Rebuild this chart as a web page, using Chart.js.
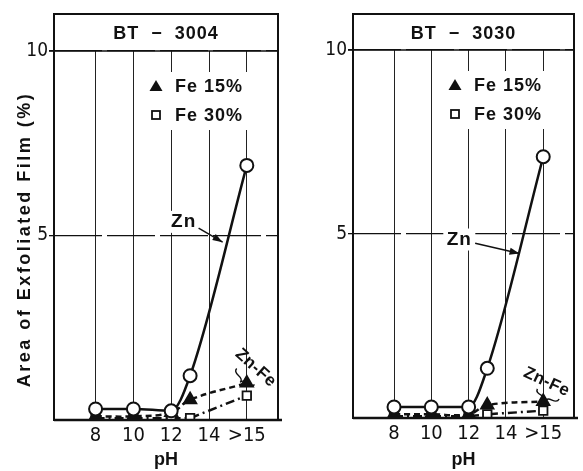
<!DOCTYPE html>
<html>
<head>
<title>Area of Exfoliated Film vs pH</title>
<script src="https://cdn.jsdelivr.net/npm/chart.js@4.4.0/dist/chart.umd.min.js"></script>
<style>
    body { margin: 0; background: #fff; }
    #wrap { position: relative; width: 583px; height: 471px; }
    canvas { position: absolute; top: 0; }
</style>
</head>
<body>
<div id="wrap">
    <canvas id="left" width="290" height="471" style="left:0px"></canvas>
    <canvas id="right" width="284" height="471" style="left:299px"></canvas>
</div>
<script>
// pH positions of the measured points (">15" is plotted at 16)
var phValues = [8, 10, 12, 13, 16];
var tickValues = [8, 10, 12, 14, 16];
var tickLabels = ['8', '10', '12', '14', '>15'];

// BT-3004
var zn3004 = [0.3, 0.3, 0.25, 1.2, 6.9];
var fe15_3004 = [0.1, 0.1, 0.2, 0.55, 1.0];
var fe30_3004 = [0.05, 0.05, 0.05, 0.05, 0.66];

// BT-3030
var zn3030 = [0.3, 0.3, 0.3, 1.35, 7.1];
var fe15_3030 = [0.1, 0.1, 0.1, 0.35, 0.45];
var fe30_3030 = [0.05, 0.05, 0.05, 0.1, 0.2];

var INK = '#111';
var BOLD = '"Liberation Sans", Arial, sans-serif';
var NARROW = '"Liberation Sans Narrow", "DejaVu Sans Condensed", "Liberation Sans", sans-serif';

// annotation anchors, in data units (pH, %)
var deco = {
    left: {
        title: 'BT  \u2212  3004', yTitle: 'Area of Exfoliated Film (%)',
        zn: [12.66, 5.37], arrow: [13.45, 5.2, 14.72, 4.82],
        znFe: [16.47, 1.41, 42], brace: [15.83, 1.12, 42]
    },
    right: {
        title: 'BT  \u2212  3030', yTitle: null,
        zn: [11.5, 4.85], arrow: [12.35, 4.75, 14.73, 4.47],
        znFe: [16.18, 0.98, 25], brace: [16.2, 0.58, 25]
    }
};

function pts(ys) {
    return phValues.map(function (x, i) { return { x: x, y: ys[i] }; });
}

function text(ctx, s, x, y, size, spacing, align, angle) {
    ctx.save();
    ctx.translate(x, y);
    if (angle) ctx.rotate(angle * Math.PI / 180);
    ctx.font = 'bold ' + size + 'px ' + BOLD;
    ctx.letterSpacing = spacing + 'px';
    ctx.textAlign = align || 'center';
    ctx.textBaseline = 'middle';
    ctx.fillStyle = INK;
    ctx.fillText(s, 0, 0);
    ctx.restore();
}

var panelDeco = {
    id: 'panelDeco',
    beforeDatasetsDraw: function (chart) {
        var ctx = chart.ctx, a = chart.chartArea;
        var xs = chart.scales.x, ys = chart.scales.y, d = deco[chart.canvas.id];
        ctx.save();
        ctx.fillStyle = '#fff';
        // gaps in the grid behind legend and Zn label
        ctx.fillRect(a.left + 94, a.top + 21, 104, 58);
        ctx.fillRect(xs.getPixelForValue(d.zn[0]) - 16, ys.getPixelForValue(d.zn[1]) - 11, 32, 22);
        ctx.restore();
    },
    afterDraw: function (chart) {
        var ctx = chart.ctx, a = chart.chartArea;
        var xs = chart.scales.x, ys = chart.scales.y, d = deco[chart.canvas.id];
        var bandTop = 14;
        ctx.save();
        ctx.strokeStyle = INK;
        ctx.lineWidth = 2;
        ctx.strokeRect(a.left, bandTop, a.right - a.left, a.bottom - bandTop);
        ctx.lineWidth = 1.5;
        ctx.beginPath();
        ctx.moveTo(a.left - 5, a.top);
        ctx.lineTo(a.right, a.top);
        ctx.stroke();
        ctx.lineWidth = 2.5;
        ctx.beginPath();
        ctx.moveTo(a.left, a.bottom);
        ctx.lineTo(a.right + 4, a.bottom);
        ctx.stroke();

        // title band
        text(ctx, d.title, (a.left + a.right) / 2, (bandTop + a.top) / 2 + 2, 18, 1);

        // legend
        var lx = a.left + 102, ly1 = a.top + 35, ly2 = a.top + 64;
        ctx.fillStyle = INK;
        ctx.beginPath();
        ctx.moveTo(lx, ly1 - 6);
        ctx.lineTo(lx + 6.5, ly1 + 5);
        ctx.lineTo(lx - 6.5, ly1 + 5);
        ctx.closePath();
        ctx.fill();
        ctx.lineWidth = 1.8;
        ctx.strokeRect(lx - 4, ly2 - 4, 8, 8);
        text(ctx, 'Fe 15%', a.left + 121, ly1 + 1, 18, 1, 'left');
        text(ctx, 'Fe 30%', a.left + 121, ly2 + 1, 18, 1, 'left');

        // Zn label with arrow
        text(ctx, 'Zn', xs.getPixelForValue(d.zn[0]), ys.getPixelForValue(d.zn[1]), 19, 1);
        var x1 = xs.getPixelForValue(d.arrow[0]), y1 = ys.getPixelForValue(d.arrow[1]);
        var x2 = xs.getPixelForValue(d.arrow[2]), y2 = ys.getPixelForValue(d.arrow[3]);
        ctx.lineWidth = 1.5;
        ctx.beginPath();
        ctx.moveTo(x1, y1);
        ctx.lineTo(x2, y2);
        ctx.stroke();
        var ang = Math.atan2(y2 - y1, x2 - x1);
        ctx.beginPath();
        ctx.moveTo(x2, y2);
        ctx.lineTo(x2 - 10 * Math.cos(ang) + 3.5 * Math.sin(ang), y2 - 10 * Math.sin(ang) - 3.5 * Math.cos(ang));
        ctx.lineTo(x2 - 10 * Math.cos(ang) - 3.5 * Math.sin(ang), y2 - 10 * Math.sin(ang) + 3.5 * Math.cos(ang));
        ctx.closePath();
        ctx.fill();

        // Zn-Fe label with brace
        text(ctx, 'Zn-Fe', xs.getPixelForValue(d.znFe[0]), ys.getPixelForValue(d.znFe[1]), 17, 0.5, 'center', d.znFe[2]);
        ctx.save();
        ctx.translate(xs.getPixelForValue(d.brace[0]), ys.getPixelForValue(d.brace[1]));
        ctx.rotate(d.brace[2] * Math.PI / 180);
        ctx.lineWidth = 1.4;
        ctx.beginPath();
        ctx.moveTo(-12, -3);
        ctx.quadraticCurveTo(-12, 1, -6, 1);
        ctx.quadraticCurveTo(0, 1, 0, 5);
        ctx.quadraticCurveTo(0, 1, 6, 1);
        ctx.quadraticCurveTo(12, 1, 12, -3);
        ctx.stroke();
        ctx.restore();

        // y axis title
        if (d.yTitle) {
            text(ctx, d.yTitle, 25, (a.top + a.bottom) / 2 + 4, 18, 2.5, 'center', -90);
        }
        ctx.restore();
    }
};

function makeChart(id, zn, fe15, fe30, top, xHeight, padRight) {
    return new Chart(document.getElementById(id), {
        type: 'line',
        data: {
            datasets: [{
                label: 'Zn',
                data: pts(zn),
                borderColor: INK,
                borderWidth: 2.5,
                cubicInterpolationMode: 'monotone',
                pointStyle: 'circle',
                pointRadius: 6.5,
                pointBorderWidth: 2,
                pointBackgroundColor: '#fff',
                pointBorderColor: INK
            }, {
                label: 'Fe 15%',
                data: pts(fe15),
                borderColor: INK,
                borderWidth: 2.5,
                borderDash: [6, 4],
                tension: 0.4,
                pointStyle: 'triangle',
                pointRadius: 6.5,
                pointBackgroundColor: INK,
                pointBorderColor: INK
            }, {
                label: 'Fe 30%',
                data: pts(fe30),
                borderColor: INK,
                borderWidth: 2.5,
                borderDash: [9, 4, 2, 4],
                pointStyle: 'rect',
                pointRadius: 6,
                pointBorderWidth: 1.8,
                pointBackgroundColor: '#fff',
                pointBorderColor: INK
            }]
        },
        options: {
            responsive: false,
            animation: false,
            layout: { padding: { top: top, right: padRight, left: 0, bottom: 0 } },
            plugins: { legend: { display: false }, tooltip: { enabled: false } },
            scales: {
                x: {
                    type: 'linear',
                    min: 5.8,
                    max: 17.65,
                    afterBuildTicks: function (s) { s.ticks = tickValues.map(function (v) { return { value: v }; }); },
                    afterFit: function (s) { s.height = xHeight; },
                    ticks: {
                        color: INK,
                        padding: 4,
                        font: { family: NARROW, size: 20 },
                        callback: function (v, i) { return tickLabels[i]; }
                    },
                    grid: { color: '#222', lineWidth: 1, drawTicks: false },
                    border: { display: false },
                    title: {
                        display: true,
                        text: 'pH',
                        color: INK,
                        padding: 0,
                        font: { family: BOLD, size: 18, weight: 'bold' }
                    }
                },
                y: {
                    min: 0,
                    max: 10,
                    afterBuildTicks: function (s) { s.ticks = [{ value: 5 }, { value: 10 }]; },
                    afterFit: function (s) { s.width = 54; },
                    ticks: {
                        color: INK,
                        padding: 1,
                        font: { family: NARROW, size: 19 }
                    },
                    grid: { color: INK, lineWidth: 1.3, tickLength: 5 },
                    border: { display: false, dash: [48, 5] }
                }
            }
        },
        plugins: [panelDeco]
    });
}

makeChart('left', zn3004, fe15_3004, fe30_3004, 51, 51, 12);
makeChart('right', zn3030, fe15_3030, fe30_3030, 50, 53, 5);
</script>
</body>
</html>
